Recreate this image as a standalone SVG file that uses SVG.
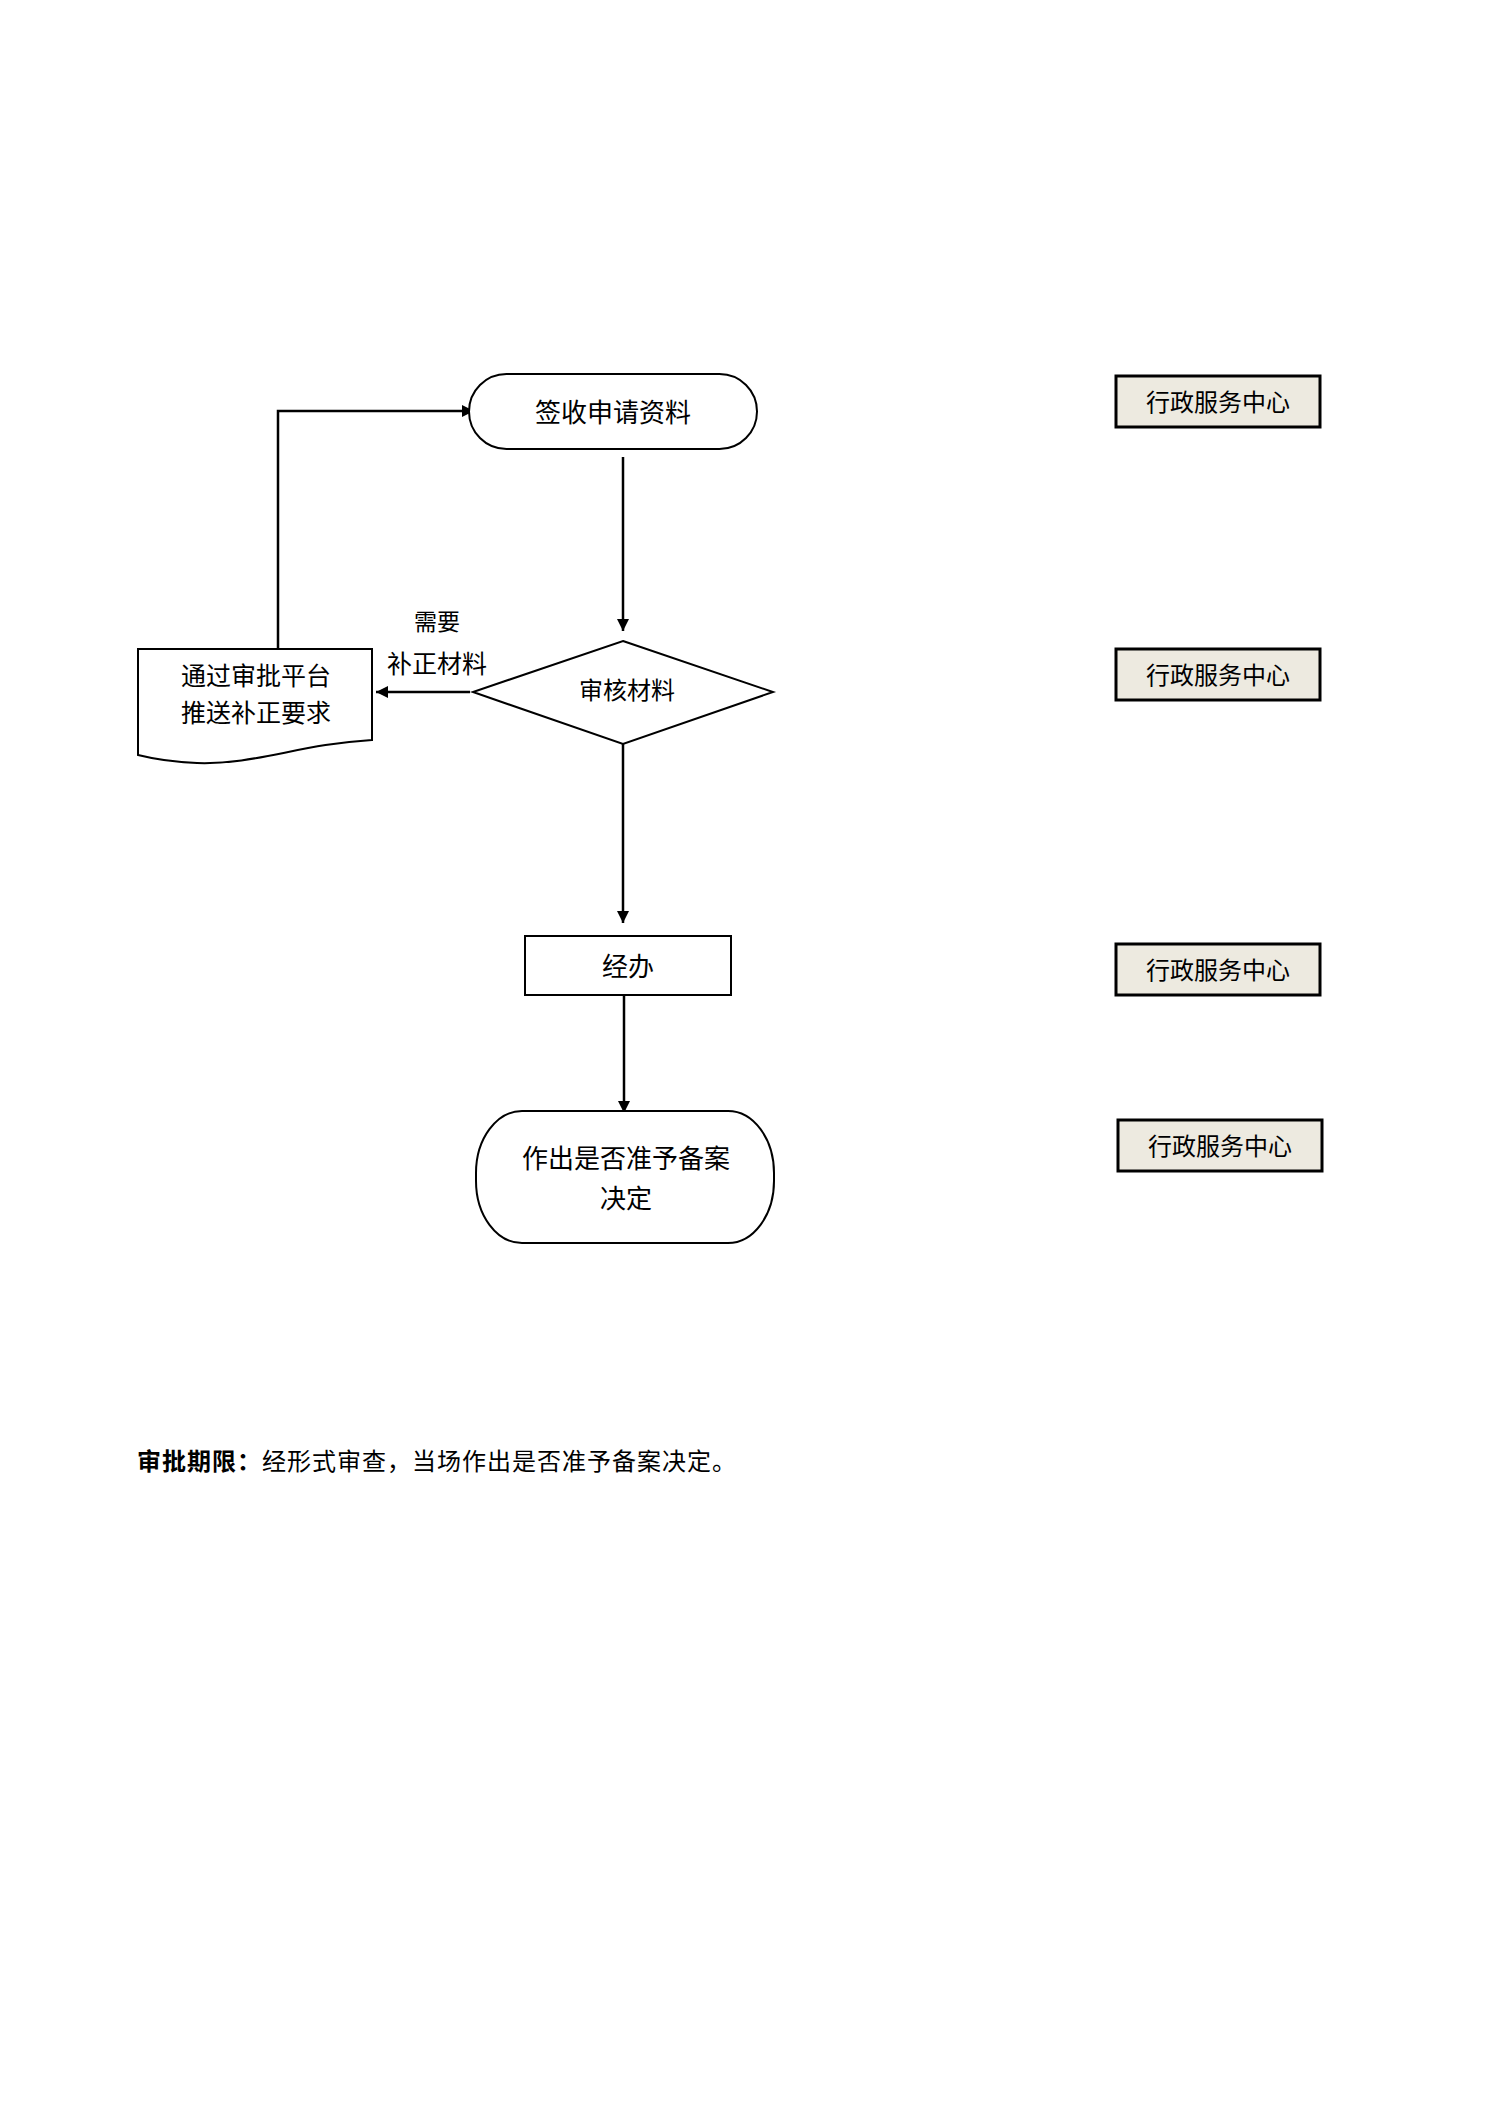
<svg xmlns="http://www.w3.org/2000/svg" width="1495" height="2111" viewBox="0 0 1495 2111">
<style>
  text { font-family: "Noto Sans CJK SC", "Noto Sans CJK JP", sans-serif; fill: #000; text-anchor: middle; dominant-baseline: central; }
  .shape { fill: #fff; stroke: #000; stroke-width: 2; }
  .side { fill: #EDEAE0; stroke: #000; stroke-width: 3; }
  .conn { fill: none; stroke: #000; stroke-width: 2.5; }
</style>
<defs>
  <marker id="arr" viewBox="0 0 12 12" refX="12" refY="6" markerWidth="12" markerHeight="12" markerUnits="userSpaceOnUse" orient="auto">
    <path d="M0,0 L12,6 L0,12 Z" fill="#000"/>
  </marker>
</defs>
<rect width="1495" height="2111" fill="#fff"/>

<g id="connectors">
  <path class="conn" d="M278,649 L278,411 L474,411" marker-end="url(#arr)"/>
  <path class="conn" d="M623,457 L623,631" marker-end="url(#arr)"/>
  <path class="conn" d="M470,692 L376,692" marker-end="url(#arr)"/>
  <path class="conn" d="M623,744 L623,923" marker-end="url(#arr)"/>
  <path class="conn" d="M624,995 L624,1113" marker-end="url(#arr)"/>
</g>

<g id="label-need">
  <text x="437" y="620" font-size="23">需要</text>
  <text x="437" y="662" font-size="25">补正材料</text>
</g>

<g id="node-receive">
  <rect class="shape" x="469" y="374" width="288" height="75" rx="37.5" ry="37.5"/>
  <text x="613" y="410" font-size="26">签收申请资料</text>
</g>

<g id="node-review">
  <path class="shape" d="M623,641 L773,692 L623,744 L473,692 Z"/>
  <text x="627" y="688" font-size="24">审核材料</text>
</g>

<g id="node-notify">
  <path class="shape" d="M138,649 L372,649 L372,740 C300,744 255,765 197,763 C170,762 150,758 138,755 Z"/>
  <text x="256" y="674" font-size="25">通过审批平台</text>
  <text x="256" y="711" font-size="25">推送补正要求</text>
</g>

<g id="node-handle">
  <rect class="shape" x="525" y="936" width="206" height="59"/>
  <text x="628" y="964" font-size="26">经办</text>
</g>

<g id="node-decide">
  <rect class="shape" x="476" y="1111" width="298" height="132" rx="46" ry="62"/>
  <text x="626" y="1156" font-size="26">作出是否准予备案</text>
  <text x="626" y="1196" font-size="26">决定</text>
</g>

<g id="side-1">
  <rect class="side" x="1116" y="376" width="204" height="51"/>
  <text x="1218" y="400" font-size="24">行政服务中心</text>
</g>
<g id="side-2">
  <rect class="side" x="1116" y="649" width="204" height="51"/>
  <text x="1218" y="673" font-size="24">行政服务中心</text>
</g>
<g id="side-3">
  <rect class="side" x="1116" y="944" width="204" height="51"/>
  <text x="1218" y="968" font-size="24">行政服务中心</text>
</g>
<g id="side-4">
  <rect class="side" x="1118" y="1120" width="204" height="51"/>
  <text x="1220" y="1144" font-size="24">行政服务中心</text>
</g>

<g id="note">
  <text x="137" y="1459" font-size="24" letter-spacing="1" style="text-anchor:start"><tspan font-weight="bold">审批期限：</tspan>经形式审查，当场作出是否准予备案决定。</text>
</g>
</svg>
